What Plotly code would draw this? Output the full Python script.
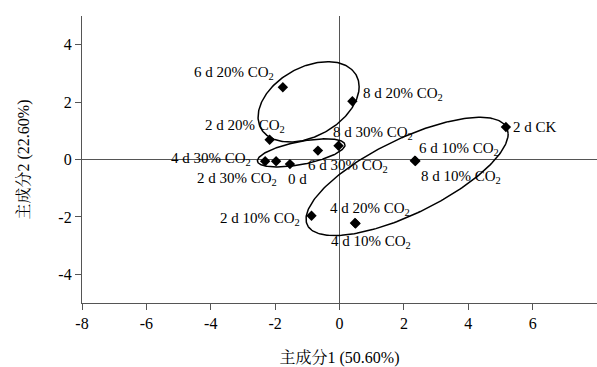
import numpy as np
import plotly.graph_objects as go

# ---- data ----
sample_labels = ["0 d", "2 d CK",
                 "2 d 10% CO<sub>2</sub>", "2 d 20% CO<sub>2</sub>", "2 d 30% CO<sub>2</sub>",
                 "4 d 10% CO<sub>2</sub>", "4 d 20% CO<sub>2</sub>", "4 d 30% CO<sub>2</sub>",
                 "6 d 10% CO<sub>2</sub>", "6 d 20% CO<sub>2</sub>", "6 d 30% CO<sub>2</sub>",
                 "8 d 10% CO<sub>2</sub>", "8 d 20% CO<sub>2</sub>", "8 d 30% CO<sub>2</sub>"]
pc1 = [-1.54, 5.17, -0.87, -2.17, -1.97, 0.50, 0.48, -2.31, 2.34, -1.76, -0.67, 2.36, 0.40, -0.03]
pc2 = [-0.16, 1.13, -1.96, 0.69, -0.06, -2.23, -2.21, -0.06, -0.04, 2.52, 0.31, -0.05, 2.03, 0.48]

# grouping ellipses: centre x, centre y, half-width x, half-height y, correlation
ell_cx = [-0.96, -1.19, 2.10]
ell_cy = [2.01, 0.23, -0.59]
ell_ax = [1.57, 1.36, 3.14]
ell_ay = [1.40, 0.49, 2.06]
ell_rho = [0.375, 0.56, 0.72]

x_ticks = [-8, -6, -4, -2, 0, 2, 4, 6, 8]
y_ticks = [-4, -2, 0, 2, 4]
x_title = "主成分1 (50.60%)"
y_title = "主成分2 (22.60%)"

# ---- label placement (style) ----
label_style = [  # (xanchor, xshift, yshift)
    ("left", -4, -15), ("left", 5, 0),
    ("right", -10, -3), ("right", 17, 14), ("right", 3, -18),
    ("left", -27, -18), ("left", -27, 14), ("right", -12, 2),
    ("left", 2, 12), ("right", -7, 14), ("left", -12, -15),
    ("left", 4, -16), ("left", 9, 7), ("left", -8, 13),
]

FONT = "Liberation Serif, Times New Roman, Noto Serif CJK SC, Noto Sans CJK SC, serif"
AXC = "#555555"

fig = go.Figure()

t = np.linspace(0, 2 * np.pi, 241)
for cx, cy, ax, ay, r in zip(ell_cx, ell_cy, ell_ax, ell_ay, ell_rho):
    ex = cx + ax * np.cos(t)
    ey = cy + ay * (r * np.cos(t) + np.sqrt(1 - r * r) * np.sin(t))
    fig.add_trace(go.Scatter(x=ex, y=ey, mode="lines",
                             line=dict(color="black", width=1.5),
                             hoverinfo="skip", showlegend=False))

fig.add_trace(go.Scatter(x=pc1, y=pc2, mode="markers",
                         marker=dict(symbol="diamond", size=8, color="black"),
                         showlegend=False))

for lab, x, y, (xa, xs, ys) in zip(sample_labels, pc1, pc2, label_style):
    fig.add_annotation(x=x, y=y, xref="x", yref="y", text=lab, showarrow=False,
                       xanchor=xa, yanchor="middle", xshift=xs, yshift=ys,
                       font=dict(family=FONT, size=15, color="black"))

fig.update_layout(
    width=597, height=367,
    margin=dict(l=82, r=0, t=16, b=64),
    paper_bgcolor="white", plot_bgcolor="white",
    font=dict(family=FONT, size=16, color="black"),
)
fig.update_xaxes(range=[-8, 8], tickvals=x_ticks, ticktext=[str(v) for v in x_ticks],
                 showgrid=False, zeroline=True, zerolinecolor=AXC, zerolinewidth=1.3,
                 showline=True, linecolor=AXC, linewidth=1.3,
                 ticks="outside", ticklen=6, tickcolor=AXC, tickwidth=1.2,
                 tickfont=dict(family=FONT, size=16),
                 title=dict(text=x_title, font=dict(family=FONT, size=16), standoff=20))
fig.update_yaxes(range=[-5, 5], tickvals=y_ticks, ticktext=[str(v) for v in y_ticks],
                 showgrid=False, zeroline=True, zerolinecolor=AXC, zerolinewidth=1.3,
                 showline=True, linecolor=AXC, linewidth=1.3,
                 ticks="outside", ticklen=6, tickcolor=AXC, tickwidth=1.2,
                 tickfont=dict(family=FONT, size=16),
                 title=dict(text=y_title, font=dict(family=FONT, size=16), standoff=24))

# remove the browser's default 8 px page margin so the figure sits at the window origin
fig.write_html("out.html",
               config={"displayModeBar": False},
               post_script="document.body.style.margin='0';document.body.style.overflow='hidden';")
